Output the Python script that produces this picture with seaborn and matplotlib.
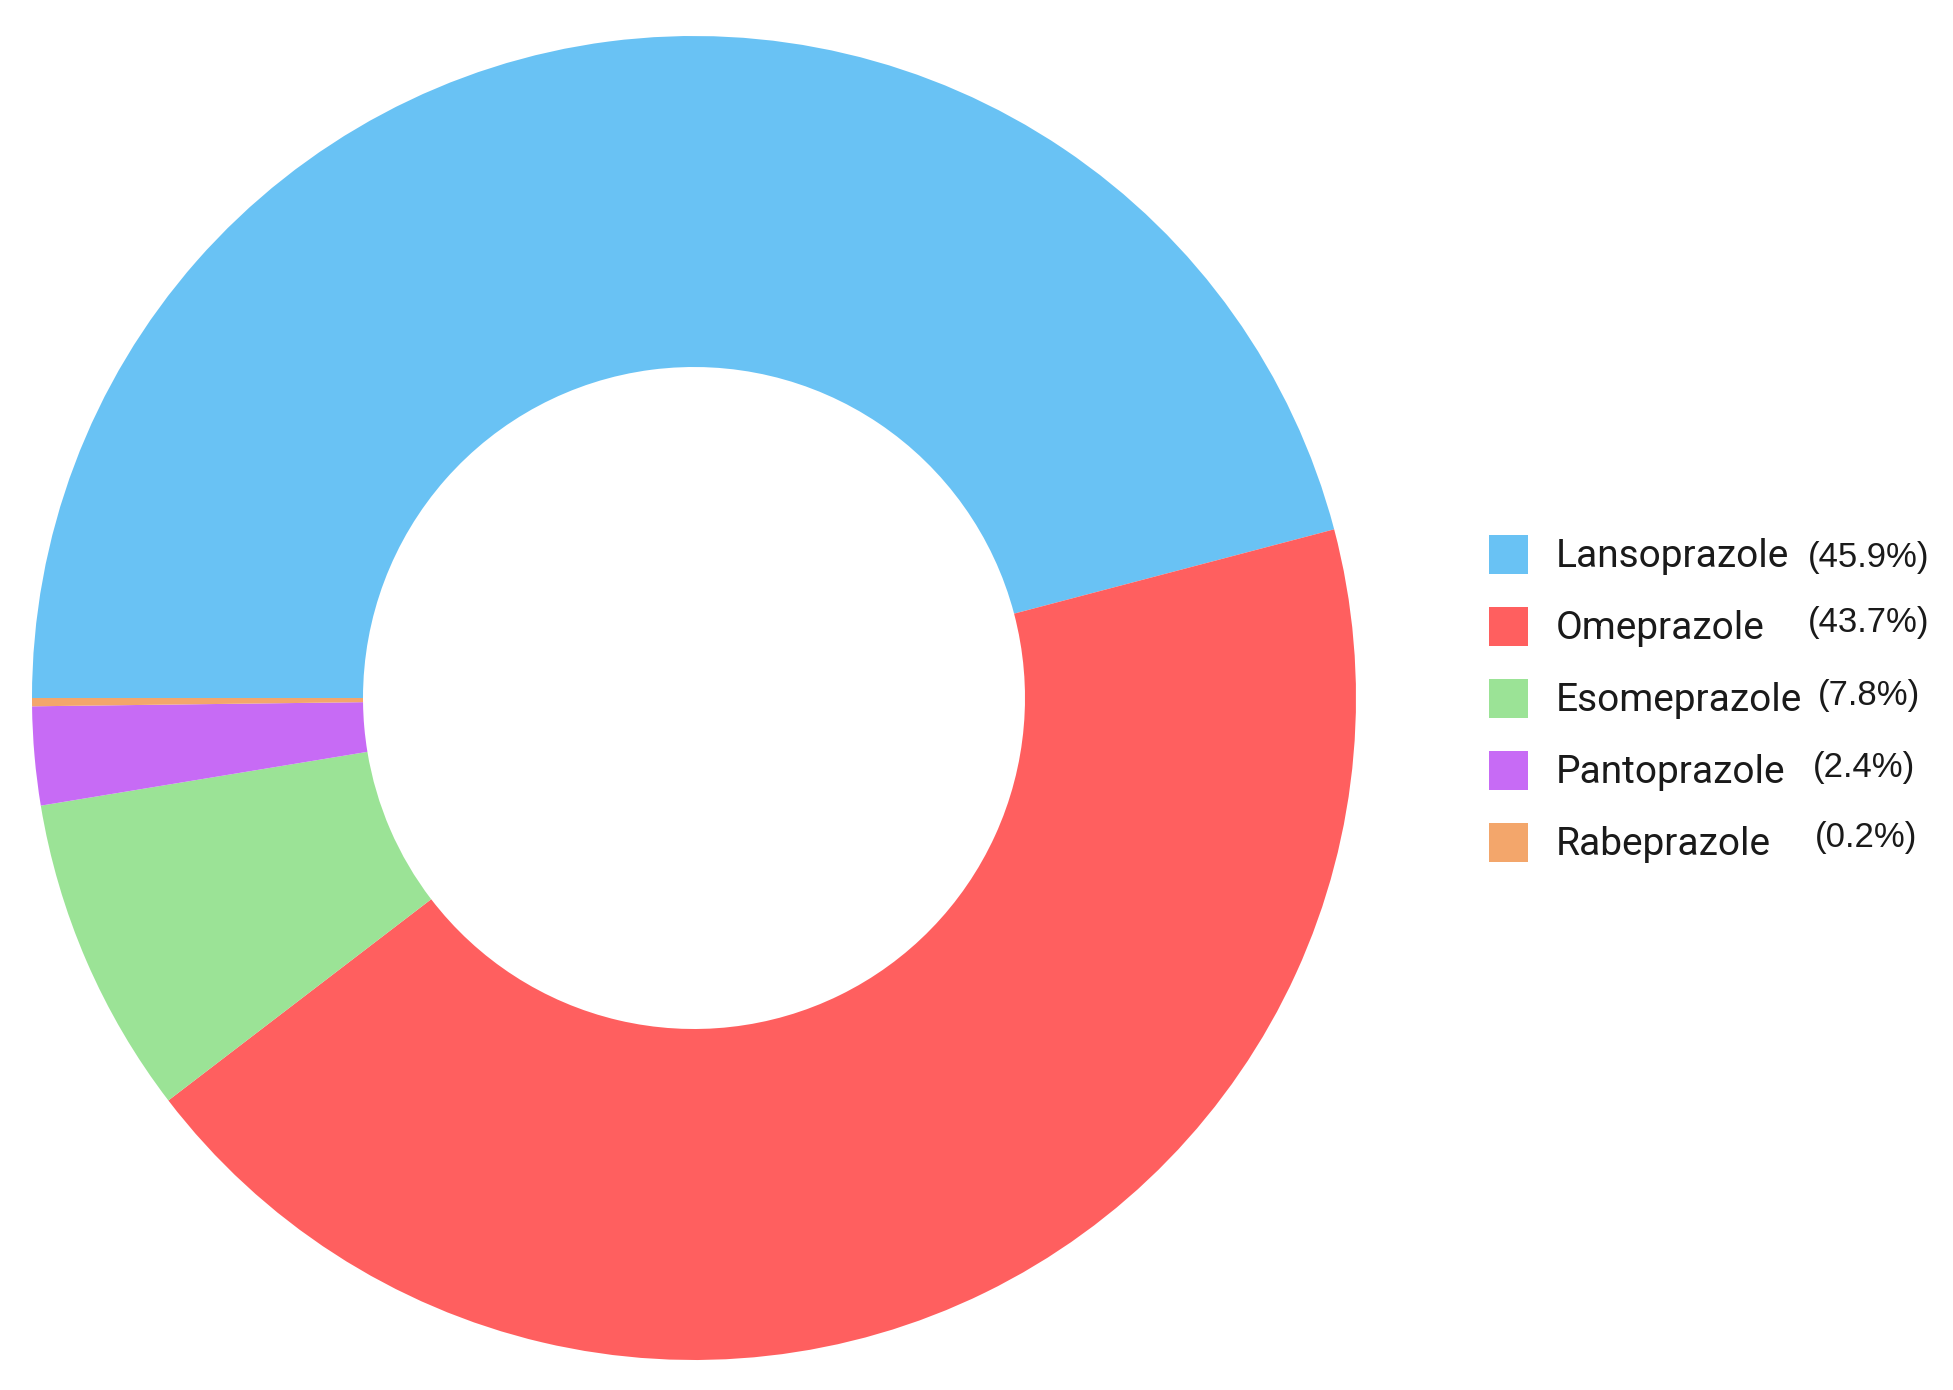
import matplotlib
matplotlib.use("Agg")
import matplotlib.pyplot as plt
import seaborn as sns
from matplotlib.patches import Rectangle

# --- data ---
drugs = ["Lansoprazole", "Omeprazole", "Esomeprazole", "Pantoprazole", "Rabeprazole"]
shares = [45.9, 43.7, 7.8, 2.4, 0.2]
colors = ["#69C2F4", "#FF5F5F", "#9BE396", "#C76BF5", "#F3A66B"]

sns.set_style("white")
plt.rcParams["font.family"] = ["Roboto", "DejaVu Sans"]

W, H = 1953, 1390
fig = plt.figure(figsize=(W / 100, H / 100), dpi=100)

# donut: centre (694, 698) px, outer radius ~662 px
cx, cy, r = 694, 698, 662
ax = fig.add_axes([(cx - r) / W, (H - cy - r) / H, 2 * r / W, 2 * r / H])
ax.pie(shares, colors=colors, startangle=180, counterclock=False,
       wedgeprops=dict(width=0.5, edgecolor="none", linewidth=0))
ax.set_xlim(-1, 1)
ax.set_ylim(-1, 1)
ax.set_aspect("equal")
ax.axis("off")

# --- legend, drawn by hand so it sits exactly like the original ---
row_y = [554, 626, 698, 770, 842]
pct_x = [1808, 1808, 1818, 1813, 1815]
pct_dy = [13, 6, 7, 7, 5]
sq = 39
for i, (name, val, col) in enumerate(zip(drugs, shares, colors)):
    y = row_y[i]
    fig.patches.append(Rectangle((1489 / W, (H - y - sq / 2) / H), sq / W, sq / H,
                                 transform=fig.transFigure, facecolor=col,
                                 edgecolor="none"))
    fig.text(1556 / W, (H - y - 13) / H, name, fontsize=28,
             color="#1a1a1a", ha="left", va="baseline")
    fig.text(pct_x[i] / W, (H - y - pct_dy[i]) / H, f"({val}%)", fontsize=25,
             family=["Liberation Sans", "DejaVu Sans"], color="#1a1a1a",
             ha="left", va="baseline")

fig.savefig("out.png", dpi=100, facecolor="white")
